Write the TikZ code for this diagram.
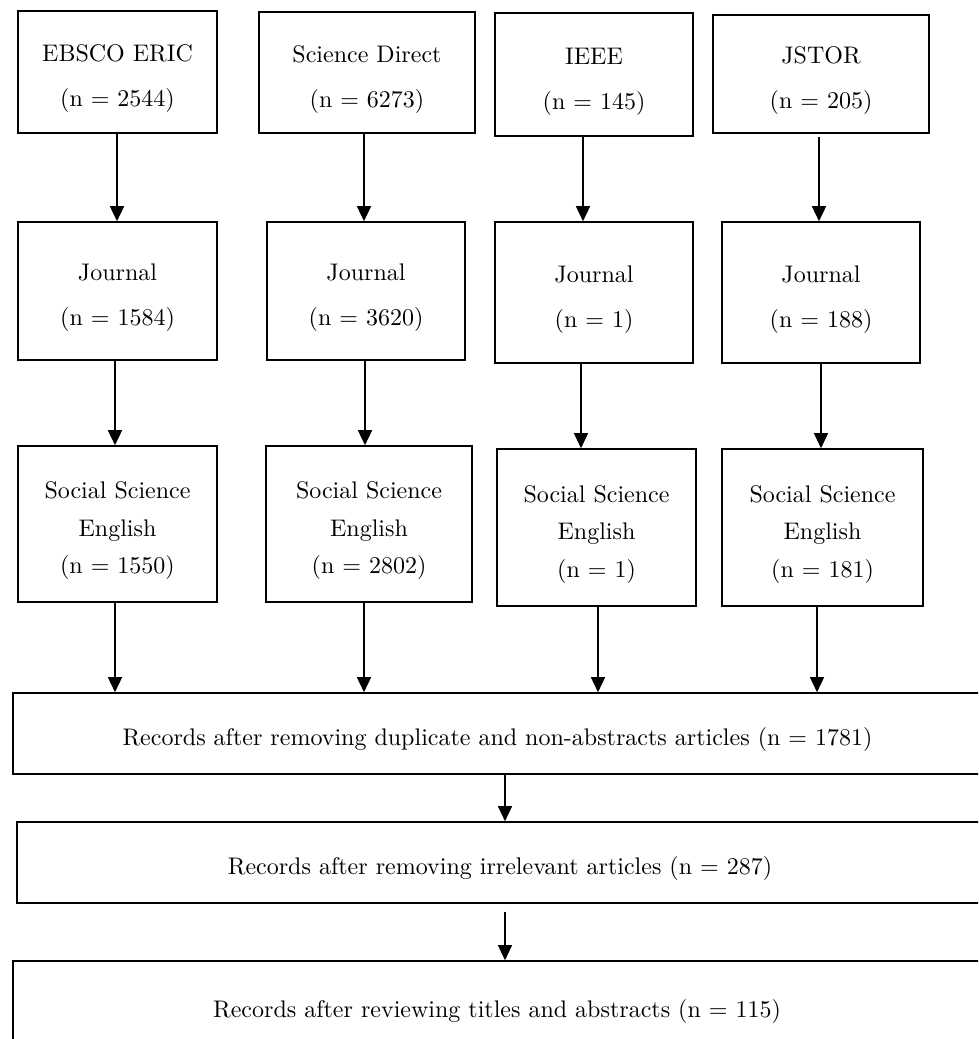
\documentclass[tikz,border=0pt]{standalone}
\usepackage{fontspec}
\setmainfont{lmroman10-regular}[Extension=.otf]
\usetikzlibrary{arrows.meta}
\newcommand{\tstrut}{\rule{0pt}{30pt}}
\begin{document}
\begin{tikzpicture}[x=1pt,y=-1pt,
  box/.style={draw=black, line width=1.6pt, rectangle, inner sep=0pt, align=center,
    font=\fontsize{24}{45}\selectfont},
  box3/.style={box, font=\fontsize{24}{37.5}\selectfont},
  wide/.style={box, font=\fontsize{24}{30}\selectfont},
  arr/.style={line width=1.5pt, -{Triangle[length=15pt,width=14pt]}},
  arrthin/.style={line width=1.1pt, -{Triangle[length=15pt,width=14pt]}}]
\clip (0,0) rectangle (978,1039);
\fill[white] (0,0) rectangle (978,1039);
% row 1
\node[box, minimum width=199pt, minimum height=122pt] (A1) at (117.5,72) {\tstrut EBSCO ERIC\\(n = 2544)};
\node[box, minimum width=216pt, minimum height=121pt] (A2) at (367,72.5) {\tstrut Science Direct\\(n = 6273)};
\node[box, minimum width=198pt, minimum height=123pt] (A3) at (594,74.5) {\tstrut IEEE\\(n = 145)};
\node[box, minimum width=216pt, minimum height=118pt] (A4) at (821,74) {\tstrut JSTOR\\(n = 205)};
% row 2
\node[box, minimum width=199pt, minimum height=138pt] (B1) at (117.5,291) {\tstrut Journal\\(n = 1584)};
\node[box, minimum width=198pt, minimum height=138pt] (B2) at (366,291) {\tstrut Journal\\(n = 3620)};
\node[box, minimum width=198pt, minimum height=141pt] (B3) at (594,292.5) {\tstrut Journal\\(n = 1)};
\node[box, minimum width=198pt, minimum height=141pt] (B4) at (821,292.5) {\tstrut Journal\\(n = 188)};
% row 3
\node[box3, minimum width=199pt, minimum height=156pt] (C1) at (117.5,524) {\tstrut Social Science\\English\\(n = 1550)};
\node[box3, minimum width=206pt, minimum height=156pt] (C2) at (369,524) {\tstrut Social Science\\English\\(n = 2802)};
\node[box3, minimum width=199pt, minimum height=157pt] (C3) at (596.5,527.5) {\tstrut Social Science\\English\\(n = 1)};
\node[box3, minimum width=201pt, minimum height=157pt] (C4) at (822.5,527.5) {\tstrut Social Science\\English\\(n = 181)};
% bottom
\node[wide, minimum width=969pt, minimum height=81pt] (D) at (497.5,733.5) {\tstrut Records after removing duplicate and non-abstracts articles (n = 1781)};
\node[wide, minimum width=966pt, minimum height=81pt] (E) at (500,862.5) {\tstrut Records after removing irrelevant articles (n = 287)};
\node[wide, minimum width=968pt, minimum height=88pt] (F) at (497,1005) {\tstrut Records after reviewing titles and abstracts (n = 115)};
% arrows row1 -> row2
\draw[arr] ([xshift=-0.5pt]A1.south) -- ([xshift=-0.5pt]A1.south |- B1.north);
\draw[arr] ([xshift=-3pt]A2.south) -- ([xshift=-3pt]A2.south |- B2.north);
\draw[arr] ([xshift=-11pt]A3.south) -- ([xshift=-11pt]A3.south |- B3.north);
\draw[arr, shorten <=3pt] ([xshift=-2pt]A4.south) -- ([xshift=-2pt]A4.south |- B4.north);
% row2 -> row3
\draw[arr] ([xshift=-2.5pt]B1.south) -- ([xshift=-2.5pt]B1.south |- C1.north);
\draw[arr] ([xshift=-1pt]B2.south) -- ([xshift=-1pt]B2.south |- C2.north);
\draw[arr] ([xshift=-13pt]B3.south) -- ([xshift=-13pt]B3.south |- C3.north);
\draw[arr] (B4.south) -- (B4.south |- C4.north);
% row3 -> D
\draw[arr] ([xshift=-2.5pt]C1.south) -- ([xshift=-2.5pt]C1.south |- D.north);
\draw[arr] ([xshift=-5pt]C2.south) -- ([xshift=-5pt]C2.south |- D.north);
\draw[arr] ([xshift=1.5pt]C3.south) -- ([xshift=1.5pt]C3.south |- D.north);
\draw[arr] ([xshift=-5.5pt]C4.south) -- ([xshift=-5.5pt]C4.south |- D.north);
% bottom chain
\draw[arrthin] ([xshift=7.5pt]D.south) -- ([xshift=7.5pt]D.south |- E.north);
\draw[arrthin, shorten <=8pt] ([xshift=5pt]E.south) -- ([xshift=5pt]E.south |- F.north);
\end{tikzpicture}
\end{document}
